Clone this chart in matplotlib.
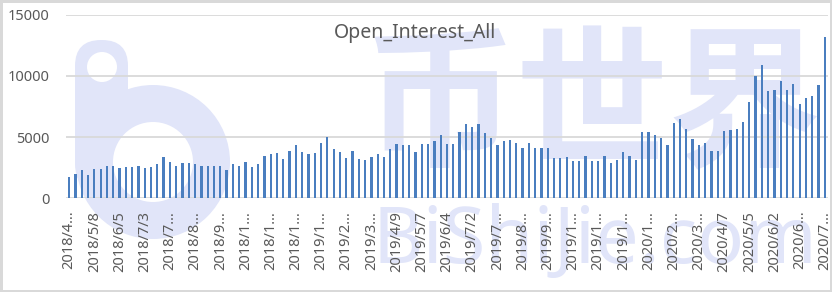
import numpy as np
import pandas as pd
import matplotlib
matplotlib.use("Agg")
import matplotlib.pyplot as plt
from matplotlib.patches import Circle, FancyBboxPatch

# weekly report dates (Tuesdays)
start_date = "2018-04-10"
n_weeks = 121
label_step = 4

# open interest
open_interest = [
    1700, 2000, 2340, 1930, 2420, 2420, 2670, 2670, 2500, 2590,
    2590, 2670, 2500, 2590, 2830, 3410, 3000, 2670, 2920, 2920,
    2830, 2670, 2670, 2670, 2670, 2340, 2830, 2670, 3000, 2590,
    2830, 3490, 3660, 3740, 3250, 3900, 4320, 3820, 3660, 3740,
    4480, 4980, 3990, 3820, 3330, 3900, 3250, 3160, 3410, 3660,
    3410, 3990, 4400, 4320, 4320, 3820, 4400, 4400, 4650, 5140, 4400,
    4400, 5390, 6050, 5800, 6050, 5310, 4900, 4320, 4650, 4730,
    4480, 4070, 4480, 4070, 4150, 4150, 3330, 3330, 3410, 3080,
    3080, 3490, 3080, 3080, 3490, 2920, 3160, 3820, 3490, 3160,
    5390, 5390, 5140, 4900, 4320, 6130, 6460, 5640, 4810, 4320,
    4480, 3900, 3900, 5470, 5560, 5640, 6210, 7860, 10010, 10920,
    8770, 8850, 9600, 8850, 9350, 7700, 8200, 8360, 9270, 13150,
]
y_ticks = [0, 5000, 10000, 15000]
title = "Open_Interest_All"

dates = pd.date_range(start_date, periods=n_weeks, freq="7D")
labels = [f"{d.year}/{d.month}/{d.day}" for d in dates]
# excel cuts long category labels
labels = [s if len(s) <= 8 else s[:6] + "\u2026" for s in labels]

W, H = 832, 292
fig = plt.figure(figsize=(W / 100, H / 100), dpi=100)
fig.patch.set_facecolor("white")

# watermark behind everything
wm = "#e1e5f9"
bg = fig.add_axes([0, 0, 1, 1], zorder=0)
bg.set_xlim(0, W)
bg.set_ylim(H, 0)
bg.axis("off")
bg.add_patch(Circle((153, 162), 77, color=wm, lw=0))
bg.add_patch(FancyBboxPatch((75, 40), 53, 150, boxstyle="round,pad=0,rounding_size=26",
                            color=wm, lw=0))
bg.add_patch(Circle((153, 162), 40, color="white", lw=0))
bg.add_patch(Circle((102, 67), 15, color="white", lw=0))
bg.text(593, 110, "币世界", fontsize=110, color=wm, ha="center", va="center",
        family=["Noto Sans CJK SC", "DejaVu Sans"], weight="bold")
bg.text(595, 243, "BiShiJie.com", fontsize=56, color=wm, ha="center", va="center",
        family="Noto Sans")

# main chart
ax = fig.add_axes([66 / W, 1 - 198.3 / H, 762 / W, (198.3 - 14.7) / H], zorder=1)
ax.patch.set_alpha(0)
x = np.arange(n_weeks)
ax.bar(x, open_interest, width=0.36, color="#4a7ebf", zorder=3)

ax.set_xlim(-0.5, n_weeks - 0.5)
ax.set_ylim(y_ticks[0], y_ticks[-1])
ax.set_yticks(y_ticks)
ax.set_yticklabels([str(v) for v in y_ticks])
ax.yaxis.grid(True, color="#d9d9d9", lw=1.3, zorder=1)
ax.set_axisbelow(True)
for s in ax.spines.values():
    s.set_visible(False)

tick_pos = x[::label_step]
ax.set_xticks(tick_pos)
ax.set_xticklabels([labels[i] for i in tick_pos], rotation=90, va="top", ha="center")
ax.tick_params(axis="both", length=0, colors="#595959", labelsize=10.5)
ax.tick_params(axis="x", pad=9)
ax.tick_params(axis="y", pad=12)
for t in ax.get_xticklabels() + ax.get_yticklabels():
    t.set_family("Noto Sans")

fig.text(415 / W, 1 - 33 / H, title, ha="center", va="center", fontsize=14,
         color="#595959", family="Noto Sans")

# chart border
fig.patch.set_edgecolor("#d9d9d9")
fig.patch.set_linewidth(2.5)

fig.savefig("out.png", dpi=100, facecolor=fig.get_facecolor(), edgecolor=fig.get_edgecolor())
